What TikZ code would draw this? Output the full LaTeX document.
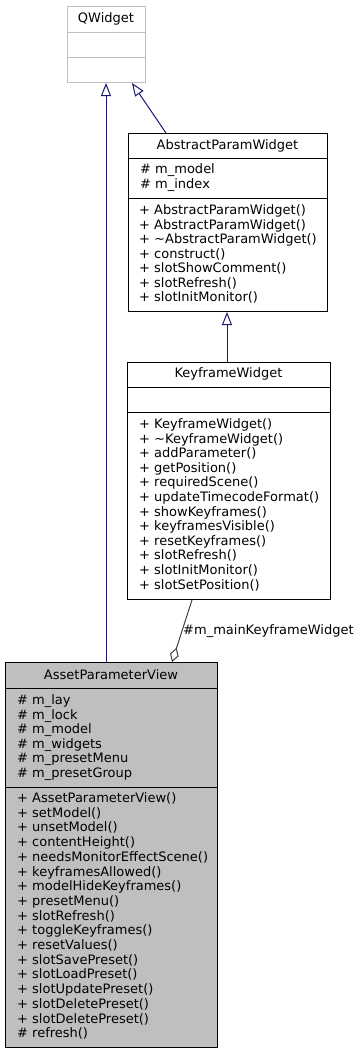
\documentclass[tikz,border=0pt]{standalone}
\usepackage{fontspec}
\setmainfont{DejaVu Sans}
\usetikzlibrary{arrows.meta}

\definecolor{edgeblue}{HTML}{191970}
\definecolor{edgegray}{HTML}{404040}
\definecolor{boxgray}{HTML}{BFBFBF}

\tikzset{
    classbox/.style={draw=black, line width=1pt, inner sep=0pt, anchor=north west},
    member/.style={anchor=base west, inner sep=0pt, font=\fontsize{13}{15}\selectfont},
    classname/.style={anchor=base, inner sep=0pt, font=\fontsize{13}{15}\selectfont},
    inherit/.style={draw=edgeblue, line width=1pt, -{Triangle[open, length=13pt, width=10pt]}},
    aggr/.style={draw=edgegray, line width=1pt, -{Diamond[open, length=15pt, width=9pt]}},
}

\begin{document}
\begin{tikzpicture}[x=1pt, y=-1pt]
    \useasboundingbox (0,0) rectangle (362,1053);

    % QWidget
    \node[classbox, draw=boxgray, minimum width=78, minimum height=76] (qwidget) at (67,6) {};
    \draw[boxgray, line width=1pt] (qwidget.west |- 0,32) -- (qwidget.east |- 0,32);
    \draw[boxgray, line width=1pt] (qwidget.west |- 0,57) -- (qwidget.east |- 0,57);
    \node[classname] (qwidgettitle) at (106,22) {QWidget};

    % AbstractParamWidget
    \node[classbox, minimum width=199, minimum height=178] (apw) at (128,133) {};
    \draw[line width=1pt] (apw.west |- 0,158) -- (apw.east |- 0,158);
    \draw[line width=1pt] (apw.west |- 0,198) -- (apw.east |- 0,198);
    \node[classname] (apwtitle) at (227.5,149.5) {AbstractParamWidget};
    \foreach \t [count=\i] in {\# m\_model, \# m\_index}
        \node[member] (apwattr\i) at (140, 173.5+14.6*\i-14.6) {\t};
    \foreach \t [count=\i] in {+ AbstractParamWidget(), + AbstractParamWidget(),
        + \textasciitilde AbstractParamWidget(), + construct(), + slotShowComment(),
        + slotRefresh(), + slotInitMonitor()}
        \node[member] (apwop\i) at (139, 214.5+14.5*\i-14.5) {\t};

    % KeyframeWidget
    \node[classbox, minimum width=203, minimum height=237] (kfw) at (127,362) {};
    \draw[line width=1pt] (kfw.west |- 0,387) -- (kfw.east |- 0,387);
    \draw[line width=1pt] (kfw.west |- 0,412) -- (kfw.east |- 0,412);
    \node[classname] (kfwtitle) at (228.5,377.5) {KeyframeWidget};
    \foreach \t [count=\i] in {+ KeyframeWidget(), + \textasciitilde KeyframeWidget(),
        + addParameter(), + getPosition(), + requiredScene(), + updateTimecodeFormat(),
        + showKeyframes(), + keyframesVisible(), + resetKeyframes(), + slotRefresh(),
        + slotInitMonitor(), + slotSetPosition()}
        \node[member] (kfwop\i) at (139, 428.5+14.6*\i-14.6) {\t};

    % AssetParameterView
    \node[classbox, fill=boxgray, minimum width=212, minimum height=385] (apv) at (5,662) {};
    \draw[line width=1pt] (apv.west |- 0,688) -- (apv.east |- 0,688);
    \draw[line width=1pt] (apv.west |- 0,787) -- (apv.east |- 0,787);
    \node[classname] (apvtitle) at (111,679.5) {AssetParameterView};
    \foreach \t [count=\i] in {\# m\_lay, \# m\_lock, \# m\_model, \# m\_widgets,
        \# m\_presetMenu, \# m\_presetGroup}
        \node[member] (apvattr\i) at (17, 704.5+14.6*\i-14.6) {\t};
    \foreach \t [count=\i] in {+ AssetParameterView(), + setModel(), + unsetModel(),
        + contentHeight(), + needsMonitorEffectScene(), + keyframesAllowed(),
        + modelHideKeyframes(), + presetMenu(), + slotRefresh(), + toggleKeyframes(),
        + resetValues(), + slotSavePreset(), + slotLoadPreset(), + slotUpdatePreset(),
        + slotDeletePreset(), + slotDeletePreset(), \# refresh()}
        \node[member] (apvop\i) at (17, 802.5+14.7*\i-14.7) {\t};

    % inheritance and aggregation
    \draw[inherit] (apv.north -| 106,0) -- (qwidget.south -| 106,0);
    \draw[inherit] (apw.north -| 166,0) -- (qwidget.south -| 132,0);
    \draw[inherit] (kfw.north -| 227,0) -- (apw.south -| 227,0);
    \draw[aggr] (kfw.south -| 192,0) -- (apv.north -| 172,0);
    \node[member] (aggrlabel) at (183,634.5) {\#m\_mainKeyframeWidget};
\end{tikzpicture}
\end{document}
